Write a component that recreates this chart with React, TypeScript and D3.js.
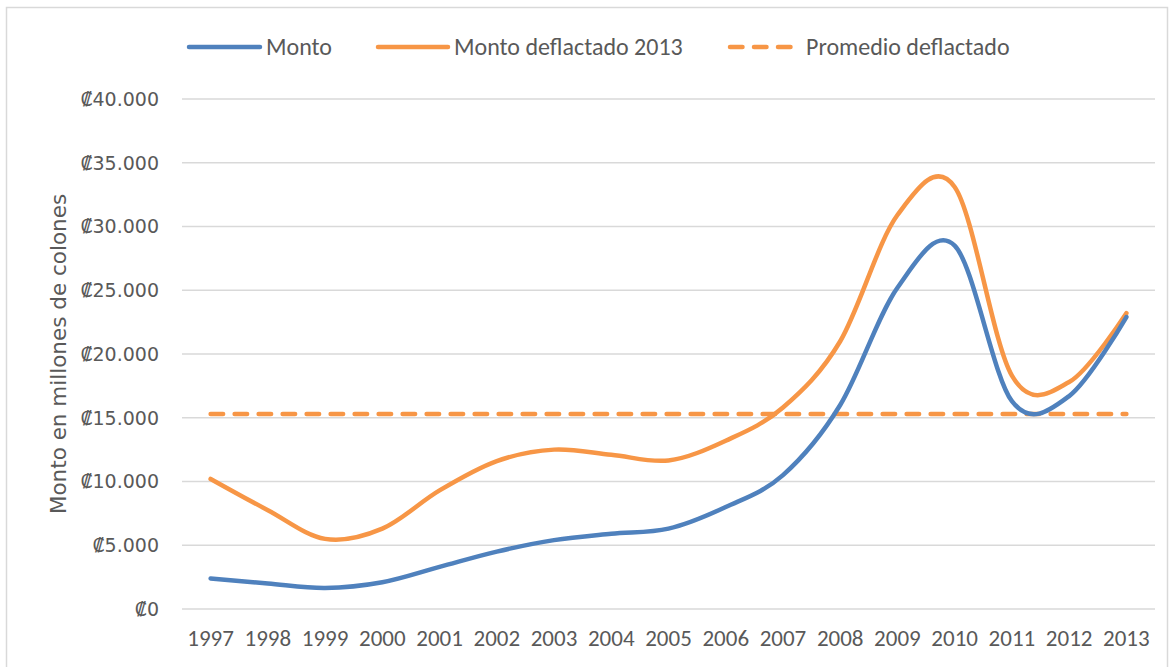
import React from "react";
import * as d3 from "d3";

const years = ["1997","1998","1999","2000","2001","2002","2003","2004","2005","2006","2007","2008","2009","2010","2011","2012","2013"];
const monto = [2400, 2000, 1650, 2100, 3300, 4500, 5400, 5900, 6300, 8000, 10500, 16000, 25200, 28500, 16300, 16700, 22900];
const montoDeflactado = [10200, 7750, 5500, 6300, 9300, 11600, 12500, 12100, 11650, 13200, 15800, 21000, 30900, 33100, 18300, 17800, 23200];
const promedioDeflactado = [15300];
const yTicks = [0, 5000, 10000, 15000, 20000, 25000, 30000, 35000, 40000];
const legendLabels = ["Monto", "Monto deflactado 2013", "Promedio deflactado"];
const yTitle = "Monto en millones de colones";

const W = 1174, H = 667;
const FONT = "Carlito, Calibri, Lato, 'Open Sans', sans-serif";
const FONT2 = "'DejaVu Sans', Verdana, sans-serif";
const TEXT = "#595959";
const BLUE = "#4F81BD";
const ORANGE = "#F79646";
const GRID = "#D9D9D9";

const locale = d3.formatLocale({ decimal: ",", thousands: ".", grouping: [3], currency: ["₡", ""] });
const fmt = locale.format("$,.0f");

export default function App() {
  const x = d3.scaleBand<string>().domain(years).range([182, 1155]).padding(0);
  const cx = (d: string) => (x(d) as number) + x.bandwidth() / 2;
  const y = d3.scaleLinear().domain([0, 40000]).range([609, 99]);

  const line = d3
    .line<number>()
    .x((_, i) => cx(years[i]))
    .y((v) => y(v))
    .curve(d3.curveCatmullRom.alpha(0));

  const avgY = y(promedioDeflactado[0]);

  return (
    <svg width={W} height={H} style={{ display: "block", position: "absolute", left: 0, top: 0 }} fontFamily={FONT}>
      <rect x={0} y={0} width={W} height={H} fill="#fff" />
      <rect x={6.5} y={7.5} width={1161} height={700} fill="none" stroke="#D9D9D9" strokeWidth={1.5} />

      {yTicks.map((t) => (
        <g key={t}>
          <line x1={182} x2={1155} y1={y(t)} y2={y(t)} stroke={GRID} strokeWidth={1.5} />
          <text x={159} y={y(t)} dy="0.36em" textAnchor="end" fontSize={19} fontFamily={FONT2} fill={TEXT}>
            {fmt(t)}
          </text>
        </g>
      ))}

      {years.map((yr) => (
        <text key={yr} x={cx(yr)} y={638} dy="0.35em" textAnchor="middle" fontSize={23} fill={TEXT}>
          {yr}
        </text>
      ))}

      <text
        transform={`translate(58,${y(20000)}) rotate(-90)`}
        textAnchor="middle"
        dy="0.36em"
        fontSize={21.5}
        fontFamily={FONT2}
        fill={TEXT}
      >
        {yTitle}
      </text>

      <line
        x1={cx(years[0])}
        x2={cx(years[years.length - 1])}
        y1={avgY}
        y2={avgY}
        stroke={ORANGE}
        strokeWidth={4.5}
        strokeDasharray="12.5 11.5"
        strokeLinecap="round"
      />
      <path d={line(montoDeflactado) || ""} fill="none" stroke={ORANGE} strokeWidth={4.5} strokeLinecap="round" strokeLinejoin="round" />
      <path d={line(monto) || ""} fill="none" stroke={BLUE} strokeWidth={4.5} strokeLinecap="round" strokeLinejoin="round" />

      {/* legend */}
      <g>
        <line x1={189} x2={260} y1={47} y2={47} stroke={BLUE} strokeWidth={4.5} strokeLinecap="round" />
        <text x={266} y={47} dy="0.35em" fontSize={24} fill={TEXT}>{legendLabels[0]}</text>
        <line x1={378} x2={448} y1={47} y2={47} stroke={ORANGE} strokeWidth={4.5} strokeLinecap="round" />
        <text x={454} y={47} dy="0.35em" fontSize={24} fill={TEXT}>{legendLabels[1]}</text>
        <line x1={730} x2={794} y1={47} y2={47} stroke={ORANGE} strokeWidth={4.5} strokeDasharray="12.5 11.5" strokeLinecap="round" />
        <text x={806} y={47} dy="0.35em" fontSize={24} fill={TEXT}>{legendLabels[2]}</text>
      </g>
    </svg>
  );
}
